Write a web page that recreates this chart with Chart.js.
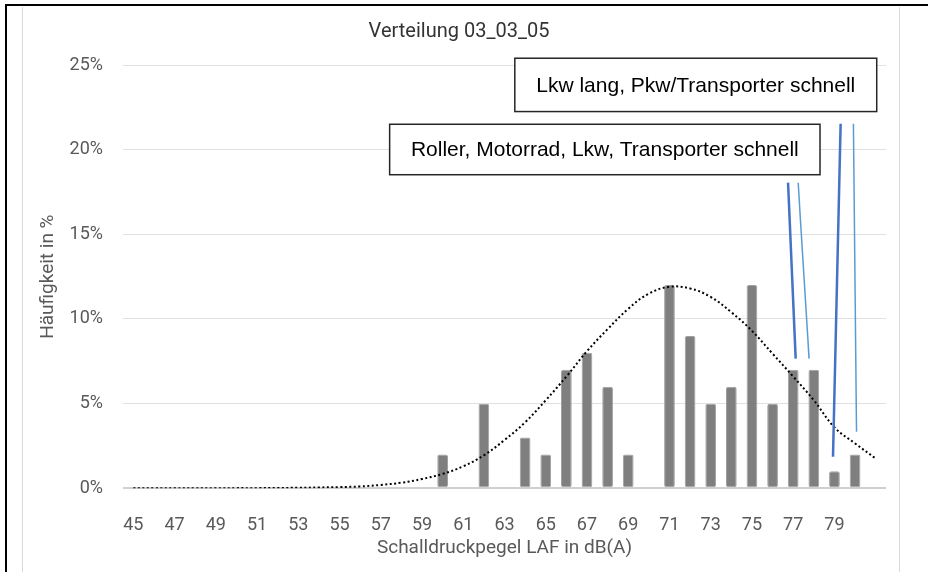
<!DOCTYPE html>
<html>
<head>
<meta charset="utf-8">
<script src="https://cdn.jsdelivr.net/npm/chart.js@4/dist/chart.umd.min.js"></script>
<style>
  body { margin: 0; background: #fff; }
  #wrap { position: relative; width: 928px; height: 572px; overflow: hidden; }
  .frame { position: absolute; left: 5px; top: 4px; width: 930px; height: 580px;
           border-left: 2.5px solid #000; border-top: 2.5px solid #000; }
  .area { position: absolute; left: 21.5px; top: 6.5px; width: 876px; height: 580px;
          border-left: 1px solid #d9d9d9; border-right: 1px solid #d9d9d9; }
  canvas { position: absolute; left: 0; top: 0; }
</style>
</head>
<body>
<div id="wrap">
  <div class="frame"></div>
  <div class="area"></div>
  <canvas id="chart" width="928" height="572"></canvas>
</div>
<script>
// Schallpegel-Klassen in dB(A)
const categories = ['45','46','47','48','49','50','51','52','53','54','55','56','57','58','59',
  '60','61','62','63','64','65','66','67','68','69','70','71','72','73','74','75','76','77',
  '78','79','80','81'];
const tickLabels = ['45','','47','','49','','51','','53','','55','','57','','59',
  '','61','','63','','65','','67','','69','','71','','73','','75','','77',
  '','79','',''];
// Häufigkeit in %
const share = [null,null,null,null,null,null,null,null,null,null,null,null,null,null,null,
  2,null,5,null,3,2,7,8,6,2,null,12,9,5,6,12,5,7,7,1,2,null];
// Trendlinie (Normalverteilung)
const trend = [0,0,0,0,0,0.01,0.01,0.02,0.03,0.05,0.07,0.11,0.2,0.33,0.55,
  0.85,1.3,1.95,2.85,3.9,5.2,6.6,8.1,9.4,10.6,11.5,11.9,11.8,11.3,10.4,9.3,7.95,6.6,
  5.2,3.6,2.65,1.76];
const yTicks = [0, 5, 10, 15, 20, 25];

// callouts in data units (x = dB(A), y = %)
const calloutBoxes = [
  { text: 'Lkw lang, Pkw/Transporter schnell', x0: 63.5, x1: 81.05, y0: 25.4, y1: 22.25 },
  { text: 'Roller, Motorrad, Lkw, Transporter schnell', x0: 57.43, x1: 78.3, y0: 21.5, y1: 18.52 }
];
const leaderLines = [
  { x0: 76.75, y0: 18.05, x1: 77.12, y1: 7.66, color: '#4472c4', width: 2.5 },
  { x0: 77.24, y0: 18.05, x1: 77.77, y1: 7.66, color: '#5b9bd5', width: 1.5 },
  { x0: 79.30, y0: 21.53, x1: 78.93, y1: 1.86, color: '#4472c4', width: 2.5 },
  { x0: 79.92, y0: 21.53, x1: 80.07, y1: 3.34, color: '#5b9bd5', width: 1.5 }
];

const FONT = 'Roboto';
const firstDb = Number(categories[0]);

const calloutPlugin = {
  id: 'callouts',
  afterDatasetsDraw(chart) {
    const ctx = chart.ctx;
    const xs = chart.scales.x, ys = chart.scales.y;
    const px = v => xs.getPixelForValue(v - firstDb);
    const py = v => ys.getPixelForValue(v);
    ctx.save();
    leaderLines.forEach(l => {
      ctx.beginPath();
      ctx.moveTo(px(l.x0), py(l.y0));
      ctx.lineTo(px(l.x1), py(l.y1));
      ctx.strokeStyle = l.color;
      ctx.lineWidth = l.width;
      ctx.stroke();
    });
    calloutBoxes.forEach(b => {
      const left = px(b.x0), right = px(b.x1), top = py(b.y0), bottom = py(b.y1);
      ctx.fillStyle = '#fff';
      ctx.fillRect(left, top, right - left, bottom - top);
      ctx.strokeStyle = '#262626';
      ctx.lineWidth = 1.5;
      ctx.strokeRect(left, top, right - left, bottom - top);
      ctx.fillStyle = '#000';
      ctx.font = '21px "Liberation Sans", Arial, sans-serif';
      ctx.textAlign = 'center';
      ctx.textBaseline = 'middle';
      ctx.fillText(b.text, (left + right) / 2, (top + bottom) / 2 + 1);
    });
    ctx.restore();
  }
};

new Chart(document.getElementById('chart'), {
  data: {
    labels: categories,
    datasets: [
      {
        type: 'line',
        data: trend,
        borderColor: '#000',
        borderWidth: 2,
        borderDash: [2, 2.5],
        pointRadius: 0,
        tension: 0.4,
        fill: false,
        order: 0
      },
      {
        type: 'bar',
        data: share,
        backgroundColor: '#7f7f7f',
        borderColor: '#a0a0a0',
        borderWidth: 1,
        borderRadius: 2,
        borderSkipped: false,
        categoryPercentage: 1,
        barPercentage: 0.52,
        order: 1
      }
    ]
  },
  options: {
    responsive: false,
    animation: false,
    layout: { padding: { left: 32, right: 42, top: 0, bottom: 0 } },
    plugins: {
      legend: { display: false },
      tooltip: { enabled: false },
      title: {
        display: true,
        text: 'Verteilung 03_03_05',
        color: '#333333',
        font: { family: FONT, size: 20, weight: 'normal' },
        padding: { top: 20, bottom: 21 }
      }
    },
    scales: {
      x: {
        grid: { display: false },
        border: { display: false },
        ticks: {
          autoSkip: false,
          maxRotation: 0,
          padding: 17.9,
          color: '#595959',
          font: { family: FONT, size: 18 },
          callback: (v, i) => tickLabels[i]
        },
        title: {
          display: true,
          text: 'Schalldruckpegel LAF in dB(A)',
          color: '#595959',
          font: { family: FONT, size: 19 },
          padding: { top: 0, bottom: 12.6 }
        },
        afterFit: s => { s.height = 83.7; }
      },
      y: {
        min: 0,
        max: 25,
        afterBuildTicks: s => { s.ticks = yTicks.map(v => ({ value: v })); },
        grid: {
          drawTicks: false,
          color: ctx => ctx.tick && ctx.tick.value === 0 ? '#d0d0d0' : '#e0e0e0',
          lineWidth: ctx => ctx.tick && ctx.tick.value === 0 ? 2 : 1
        },
        border: { display: false },
        ticks: {
          padding: 20,
          color: '#595959',
          font: { family: FONT, size: 18 },
          callback: v => v + '%'
        },
        title: {
          display: true,
          text: 'Häufigkeit in %',
          color: '#595959',
          font: { family: FONT, size: 19 },
          padding: { top: 4.6, bottom: 0 }
        },
        afterFit: s => { s.width = 91; }
      }
    }
  },
  plugins: [calloutPlugin]
});
</script>
</body>
</html>
